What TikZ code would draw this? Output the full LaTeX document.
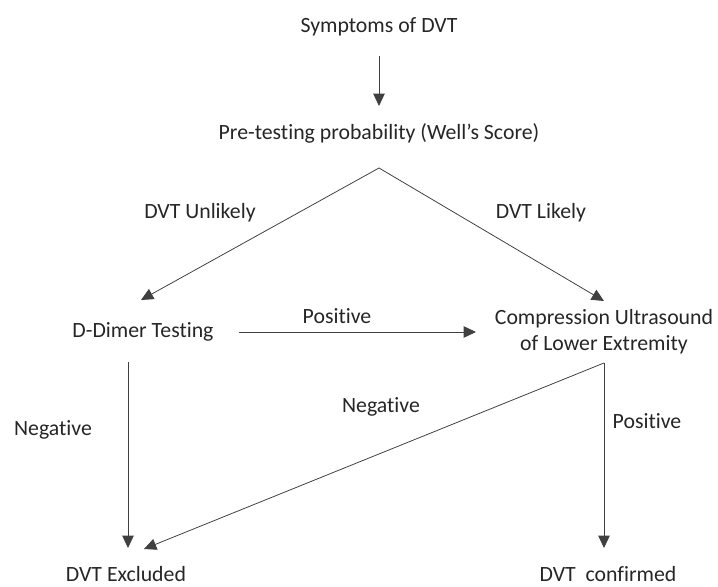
\documentclass[tikz,border=0pt]{standalone}
\usepackage{fontspec}
\setmainfont[Ligatures=NoCommon]{Carlito}
\usetikzlibrary{arrows.meta, positioning}

\begin{document}
\begin{tikzpicture}[x=0.02cm, y=-0.02cm,
    every node/.style={font=\fontsize{12.4}{15}\selectfont, text=black!85, inner sep=0pt},
    flow/.style={draw=black!75, line width=0.45pt, -{Triangle[width=6.5pt,length=7pt]}},
    lbl/.style={font=\fontsize{12.4}{15}\selectfont}]

\useasboundingbox (0,0) rectangle (718,587);

% steps
\node (nSym) at (379,27) {Symptoms of DVT};
\node (nPre) at (379,133) {Pre-testing probability (Well's Score)};
\node (nDim) at (143,332) {D-Dimer Testing};
\node[align=center] (nCus) at (604,332) {Compression Ultrasound\\of Lower Extremity};
\node (nExc) at (126,574) {DVT Excluded};
\node (nCon) at (608,574) {DVT\ \ confirmed};

% branch points
\coordinate (cApex) at (379,168);
\coordinate (cCusOut) at (604,363);
\coordinate (cDimOut) at (128,362);
\coordinate (cExcL) at (128,548);
\coordinate (cExcR) at (144,549);
\coordinate (cConIn) at (604,548);

\draw[flow] (379,56) -- (379,106);
\draw[flow] (cApex) -- (141,300);
\draw[flow] (cApex) -- (604,301);
\draw[flow] (nDim.east) ++(25,0) -- (476,332);
\draw[flow] (cDimOut) -- (cExcL);
\draw[flow] (cCusOut) -- (cExcR);
\draw[flow] (cCusOut) -- (cConIn);

% labels
\node[lbl] at (200,213) {DVT Unlikely};
\node[lbl] at (541,213) {DVT Likely};
\node[lbl] at (337,316) {Positive};
\node[lbl] at (53,430) {Negative};
\node[lbl] at (381,407) {Negative};
\node[lbl] at (647,421) {Positive};

\end{tikzpicture}
\end{document}
